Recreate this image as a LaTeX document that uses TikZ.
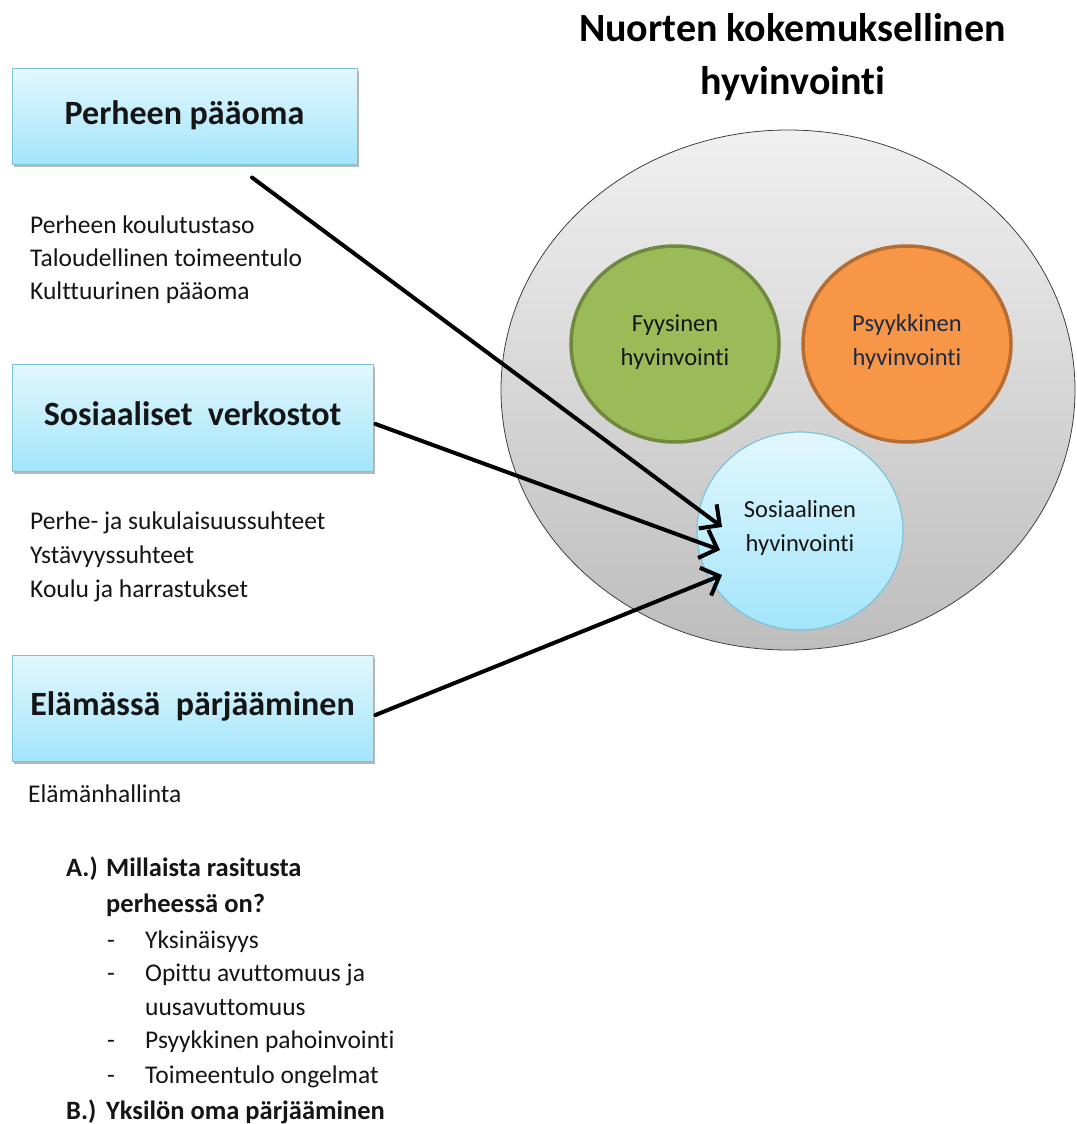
\documentclass[tikz,border=0pt]{standalone}
\usepackage{fontspec}
\setmainfont{Carlito}[Ligatures=NoCommon]
\usetikzlibrary{shapes.geometric,arrows.meta,shadows,calc}
\definecolor{boxtop}{HTML}{E2F7FE}
\definecolor{boxbot}{HTML}{A3E5FA}
\definecolor{boxborder}{HTML}{7CC3D9}
\definecolor{bigtop}{HTML}{F0F0F0}
\definecolor{bigbot}{HTML}{BDBDBD}
\definecolor{greenfill}{HTML}{9BBB59}
\definecolor{greenline}{HTML}{71893F}
\definecolor{orangefill}{HTML}{F79646}
\definecolor{orangeline}{HTML}{B66D31}
\definecolor{txt}{HTML}{151515}
\definecolor{navytxt}{HTML}{1E2A44}
\begin{document}
\begin{tikzpicture}[x=1pt,y=-1pt,
  boxnode/.style={rectangle, draw=boxborder, line width=1pt, top color=boxtop, bottom color=boxbot,
    drop shadow={shadow xshift=1.5pt, shadow yshift=-2.5pt, fill=black, opacity=0.28},
    font=\fontsize{34pt}{40pt}\selectfont\bfseries, text=txt, inner sep=0pt,
    text height=22pt, text depth=7pt},
  listtext/.style={anchor=base west, inner sep=0pt, text=txt, font=\fontsize{25.5pt}{30pt}\selectfont},
  boldtext/.style={anchor=base west, inner sep=0pt, text=txt, font=\fontsize{26.5pt}{30pt}\selectfont\bfseries},
  titletext/.style={anchor=base, inner sep=0pt, text=black, font=\fontsize{40pt}{48pt}\selectfont\bfseries},
  circtext/.style={align=center, text=txt, font=\fontsize{24.5pt}{34pt}\selectfont},
  conn/.style={line width=4pt, -{Straight Barb[length=15pt,width=30pt]}, line cap=round}
]
\useasboundingbox (0,0) rectangle (1076,1124);
\fill[white] (0,0) rectangle (1076,1124);

% title
\node[titletext] (title1) at (792.5,42) {Nuorten kokemuksellinen};
\node[titletext] (title2) at (793,95) {hyvinvointi};

% circles
\node[ellipse, draw=black!75, line width=0.8pt, top color=bigtop, bottom color=bigbot,
  minimum width=574pt, minimum height=520pt, inner sep=0pt] (big) at (788,390) {};
\node[ellipse, draw=greenline, line width=3.5pt, fill=greenfill,
  minimum width=208pt, minimum height=196pt, inner sep=0pt] (fyy) at (675,344) {};
\node[circtext] (fyyt) at ($(fyy.center)+(0,-2)$) {Fyysinen\\hyvinvointi};
\node[ellipse, draw=orangeline, line width=3.5pt, fill=orangefill,
  minimum width=208pt, minimum height=196pt, inner sep=0pt] (psy) at (907,344) {};
\node[circtext, text=navytxt] (psyt) at ($(psy.center)+(0,-2)$) {Psyykkinen\\hyvinvointi};
\node[ellipse, draw=boxborder, line width=1.2pt, top color=boxtop, bottom color=boxbot,
  minimum width=206pt, minimum height=198pt, inner sep=0pt] (soc) at (800,531) {};
\node[circtext] (soct) at ($(soc.center)+(0,-3)$) {Sosiaalinen\\hyvinvointi};

% boxes
\node[boxnode, minimum width=345pt, minimum height=95pt] (pp) at (184.5,116.5) {Perheen pääoma};
\node[boxnode, minimum width=361pt, minimum height=107pt] (sv) at (192.5,417.5) {Sosiaaliset\ \ verkostot};
\node[boxnode, minimum width=361pt, minimum height=106pt] (ep) at (192.5,708) {Elämässä\ \ pärjääminen};

% lists
\node[listtext] (l11) at (30,233) {Perheen koulutustaso};
\node[listtext] (l12) at (30,266) {Taloudellinen toimeentulo};
\node[listtext] (l13) at (30,299) {Kulttuurinen pääoma};
\node[listtext] (l21) at (30,529) {Perhe- ja sukulaisuussuhteet};
\node[listtext] (l22) at (30,563) {Ystävyyssuhteet};
\node[listtext] (l23) at (30,597) {Koulu ja harrastukset};
\node[listtext] (l31) at (28,802) {Elämänhallinta};

\node[boldtext] (a1) at (66,876) {A.)};
\node[boldtext] (a2) at (106,876) {Millaista rasitusta};
\node[boldtext] (a3) at (106,912) {perheessä on?};
\node[listtext] (d1) at (107,948) {-};
\node[listtext] (i1) at (145,948) {Yksinäisyys};
\node[listtext] (d2) at (107,981) {-};
\node[listtext] (i2) at (145,981) {Opittu avuttomuus ja};
\node[listtext] (i2b) at (145,1015) {uusavuttomuus};
\node[listtext] (d3) at (107,1048) {-};
\node[listtext] (i3) at (145,1048) {Psyykkinen pahoinvointi};
\node[listtext] (d4) at (107,1083) {-};
\node[listtext] (i4) at (145,1083) {Toimeentulo ongelmat};
\node[boldtext] (b1) at (66,1119) {B.)};
\node[boldtext] (b2) at (106,1119) {Yksilön oma pärjääminen};

% connectors
\coordinate (s1) at ($(pp.south)+(67.5,13)$);
\coordinate (s2) at ($(sv.east)+(2,6.5)$);
\coordinate (s3) at ($(ep.east)+(2,7)$);
\coordinate (t1) at ($(soc.center)+(-78,-4)$);
\coordinate (t2) at ($(soc.center)+(-80,19)$);
\coordinate (t3) at ($(soc.center)+(-78,44)$);
\draw[conn] (s1) -- (t1);
\draw[conn] (s2) -- (t2);
\draw[conn] (s3) -- (t3);
\end{tikzpicture}
\end{document}
